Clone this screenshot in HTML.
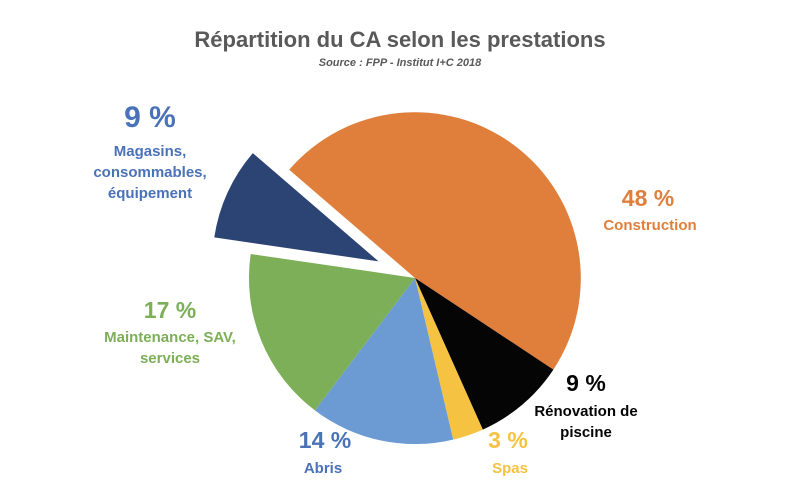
<!DOCTYPE html>
<html><head><meta charset="utf-8"><style>
html,body{margin:0;padding:0;background:#fff;}
svg{display:block;font-family:"Liberation Sans",sans-serif;font-weight:bold;}
</style></head><body>
<svg width="800" height="500" viewBox="0 0 800 500">
<rect width="800" height="500" fill="#fff"/>
<text x="400" y="47" text-anchor="middle" font-size="22" fill="#595959">Répartition du CA selon les prestations</text>
<text x="400" y="66" text-anchor="middle" font-size="11" font-style="italic" fill="#595959">Source : FPP - Institut I+C 2018</text>
<g>
<path d="M415,278 L289.2,169.7 A166,166 0 0 1 553.4,369.6 Z" fill="#E07F3C"/>
<path d="M415,278 L553.4,369.6 A166,166 0 0 1 482.8,429.6 Z" fill="#050505"/>
<path d="M415,278 L482.8,429.6 A166,166 0 0 1 453.2,439.6 Z" fill="#F5C242"/>
<path d="M415,278 L453.2,439.6 A166,166 0 0 1 314.9,410.4 Z" fill="#6B9BD2"/>
<path d="M415,278 L314.9,410.4 A166,166 0 0 1 250.7,254.0 Z" fill="#7CAF57"/>
<g transform="translate(-36.4,-16.6)">
<path d="M415,278 L250.7,254.0 A166,166 0 0 1 289.2,169.7 Z" fill="#2C4474"/>
</g>
</g>
<g text-anchor="middle">
<text x="150" y="127" font-size="30" fill="#4A72B8">9 %</text>
<text x="150" y="156" font-size="15" fill="#4A72B8">Magasins,</text>
<text x="150" y="177" font-size="15" fill="#4A72B8">consommables,</text>
<text x="150" y="198" font-size="15" fill="#4A72B8">équipement</text>
<text x="648" y="206" font-size="23" fill="#E07F3C">48 %</text>
<text x="650" y="230" font-size="15" fill="#E07F3C">Construction</text>
<text x="170" y="318" font-size="23" fill="#7CAF57">17 %</text>
<text x="170" y="342" font-size="15" fill="#7CAF57">Maintenance, SAV,</text>
<text x="170" y="363" font-size="15" fill="#7CAF57">services</text>
<text x="325" y="448" font-size="23" fill="#4A72B8">14 %</text>
<text x="323" y="473" font-size="15" fill="#4A72B8">Abris</text>
<text x="508" y="448" font-size="23" fill="#F5C242">3 %</text>
<text x="510" y="473" font-size="15" fill="#F5C242">Spas</text>
<text x="586" y="391" font-size="23" fill="#050505">9 %</text>
<text x="586" y="416" font-size="15" fill="#050505">Rénovation de</text>
<text x="586" y="437" font-size="15" fill="#050505">piscine</text>
</g>
</svg>
</body></html>
